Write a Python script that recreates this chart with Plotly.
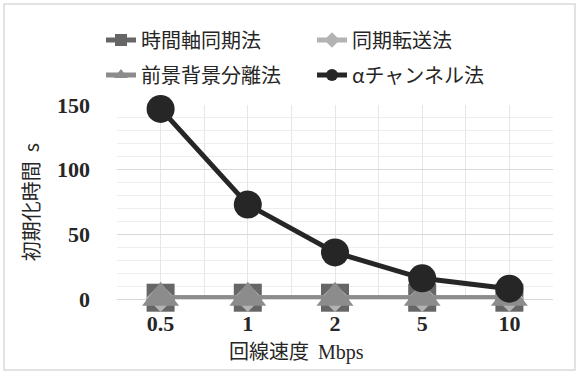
import plotly.graph_objects as go

categories = ["0.5", "1", "2", "5", "10"]
series_names = ["時間軸同期法", "同期転送法", "前景背景分離法", "αチャンネル法"]
time_axis_sync = [1, 1, 1, 1, 1]
sync_transfer = [1, 1, 1, 1, 1]
fg_bg_separation = [1, 1, 1, 1, 1]
alpha_channel = [147, 73, 36, 16, 8]
y_ticks = [0, 50, 100, 150]
x_title = '回線速度  <span style="font-family:Liberation Serif">Mbps</span>'
y_title = "初期化時間  s"

colors = ["#666666", "#b3b3b3", "#8c8c8c", "#262626"]
symbols = ["square", "diamond", "triangle-up", "circle"]
marker_sizes = [28, 22, 32, 28]
values = [time_axis_sync, sync_transfer, fg_bg_separation, alpha_channel]
legend_ids = ["legend2", "legend3", "legend4", "legend5"]
# legend placement (container pixels): left x, row centre y
legend_pos = [(101, 40), (312, 40), (101, 75), (312, 75)]

W, H = 579, 374
ML, MR, MT, MB = 117, 26, 105, 75
PW, PH = W - ML - MR, H - MT - MB
xs = list(range(len(categories)))
JP = "Noto Sans CJK JP"
SERIF = "Liberation Serif"

fig = go.Figure()
for name, vals, c, s, ms, lg in zip(series_names, values, colors, symbols, marker_sizes, legend_ids):
    fig.add_trace(go.Scatter(
        x=xs, y=vals, name=name, mode="lines+markers",
        line=dict(color=c, width=5),
        marker=dict(symbol=s, size=ms, color=c),
        legend=lg, cliponaxis=False,
    ))

legend_layout = {}
for lg, (lx, ly) in zip(legend_ids, legend_pos):
    legend_layout[lg] = dict(
        orientation="h", xref="container", yref="container",
        x=lx / W, y=1 - ly / H, xanchor="left", yanchor="middle",
        itemsizing="constant", font=dict(size=20, family=JP, color="#262626"),
        bgcolor="rgba(0,0,0,0)", borderwidth=0,
    )

fig.update_layout(
    width=W, height=H,
    margin=dict(l=ML, r=MR, t=MT, b=MB, autoexpand=False),
    paper_bgcolor="white", plot_bgcolor="white",
    font=dict(family=JP, size=17, color="#262626"),
    showlegend=True,
    xaxis=dict(
        range=[-0.5, len(categories) - 0.5],
        tickvals=xs, ticktext=categories,
        tickfont=dict(family=SERIF, size=22, color="#262626", weight="bold"),
        showgrid=True, gridcolor="#e6e6e6", gridwidth=1,
        minor=dict(tick0=-0.5, dtick=0.5, showgrid=True, gridcolor="#e6e6e6", gridwidth=1),
        showline=False, zeroline=False, ticks="", ticklabelstandoff=9,
    ),
    yaxis=dict(
        range=[0, 150], tickvals=y_ticks,
        tickfont=dict(family=SERIF, size=22, color="#262626", weight="bold"),
        showgrid=True, gridcolor="#d9d9d9", gridwidth=1,
        minor=dict(dtick=10, showgrid=True, gridcolor="#eeeeee", gridwidth=1),
        zeroline=True, zerolinecolor="#d9d9d9", zerolinewidth=1,
        showline=False, ticks="", ticklabelstandoff=26,
        title=dict(text=y_title, font=dict(size=20, family=JP), standoff=12),
    ),
    annotations=[dict(text=x_title, xref="paper", yref="paper",
                      x=(296 - ML) / PW, y=-(350 - (H - MB)) / PH,
                      xanchor="center", yanchor="middle", showarrow=False,
                      font=dict(size=20, family=JP, color="#262626"))],
    **legend_layout,
)
# outer chart border
fig.add_shape(type="rect", xref="paper", yref="paper",
              x0=-(ML - 4) / PW, x1=1 + (MR - 4) / PW,
              y0=-(MB - 4) / PH, y1=1 + (MT - 4) / PH,
              line=dict(color="#d9d9d9", width=1.5), layer="below")

fig.write_html("out.html")
